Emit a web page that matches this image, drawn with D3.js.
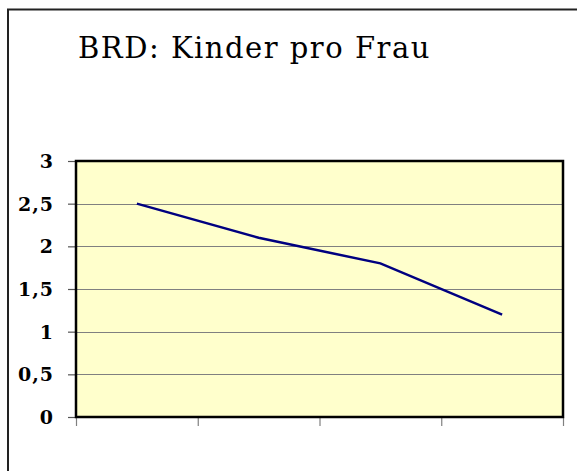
<!DOCTYPE html>
<html>
<head>
<meta charset="utf-8">
<script src="https://cdn.jsdelivr.net/npm/d3@7"></script>
<style>
  body { margin: 0; background: #fff; }
  svg { display: block; }
  .title { font-family: "DejaVu Serif", serif; font-size: 29px; letter-spacing: 1.5px; fill: #000; }
  .yaxis text { font-family: "DejaVu Serif", serif; font-weight: bold; font-size: 19px; letter-spacing: 1px; font-variant-numeric: oldstyle-nums; fill: #000; }
</style>
</head>
<body>
<div id="chart"></div>
<script>
// chart data
const title = "BRD: Kinder pro Frau";
const categories = ["1", "2", "3", "4"];
const values = [2.5, 2.1, 1.8, 1.2];
const yTicks = [0, 0.5, 1, 1.5, 2, 2.5, 3];

const width = 577, height = 471;
const plot = { left: 76, right: 563, top: 161, bottom: 417 };

const svg = d3.select("#chart")
  .append("svg")
  .attr("width", width)
  .attr("height", height);

svg.append("rect")
  .attr("width", width)
  .attr("height", height)
  .attr("fill", "#fff");

// outer frame (cut off at right and bottom)
svg.append("path")
  .attr("d", "M8," + height + "V9.5H" + width)
  .attr("fill", "none")
  .attr("stroke", "#222")
  .attr("stroke-width", 2);

svg.append("text")
  .attr("class", "title")
  .attr("x", 78)
  .attr("y", 58)
  .text(title);

const x = d3.scaleBand()
  .domain(categories)
  .range([plot.left, plot.right]);

const xEdges = d3.scaleLinear()
  .domain([0, categories.length])
  .range([plot.left, plot.right]);

const y = d3.scaleLinear()
  .domain([0, 3])
  .range([plot.bottom, plot.top]);

svg.append("rect")
  .attr("x", plot.left)
  .attr("y", plot.top)
  .attr("width", plot.right - plot.left)
  .attr("height", plot.bottom - plot.top)
  .attr("fill", "#ffffcc");

svg.append("g")
  .selectAll("line")
  .data(yTicks.slice(1, -1))
  .enter()
  .append("line")
  .attr("x1", plot.left)
  .attr("x2", plot.right)
  .attr("y1", d => Math.round(y(d)) + 0.5)
  .attr("y2", d => Math.round(y(d)) + 0.5)
  .attr("stroke", "#808080")
  .attr("stroke-width", 1);

// category boundary ticks, no labels
const xAxis = svg.append("g")
  .attr("transform", "translate(0," + plot.bottom + ")")
  .call(d3.axisBottom(xEdges)
    .tickValues(d3.range(categories.length + 1))
    .tickFormat("")
    .tickSize(9)
    .tickSizeOuter(0));
xAxis.select(".domain").remove();
xAxis.selectAll("line").attr("stroke", "#808080").attr("stroke-width", 1.2);

const yAxis = svg.append("g")
  .attr("class", "yaxis")
  .attr("transform", "translate(" + plot.left + ",0)")
  .call(d3.axisLeft(y)
    .tickValues(yTicks)
    .tickFormat(d => String(d).replace(".", ","))
    .tickSize(8)
    .tickPadding(14)
    .tickSizeOuter(0));
yAxis.select(".domain").remove();
yAxis.selectAll("line").attr("stroke", "#555").attr("stroke-width", 1.2);
yAxis.selectAll("text").attr("dy", "0.35em");

svg.append("rect")
  .attr("x", plot.left)
  .attr("y", plot.top)
  .attr("width", plot.right - plot.left)
  .attr("height", plot.bottom - plot.top)
  .attr("fill", "none")
  .attr("stroke", "#000")
  .attr("stroke-width", 2.5);

const line = d3.line()
  .x((d, i) => x(categories[i]) + x.bandwidth() / 2)
  .y(d => y(d));

svg.append("path")
  .datum(values)
  .attr("d", line)
  .attr("fill", "none")
  .attr("stroke", "#000080")
  .attr("stroke-width", 2.5);
</script>
</body>
</html>
